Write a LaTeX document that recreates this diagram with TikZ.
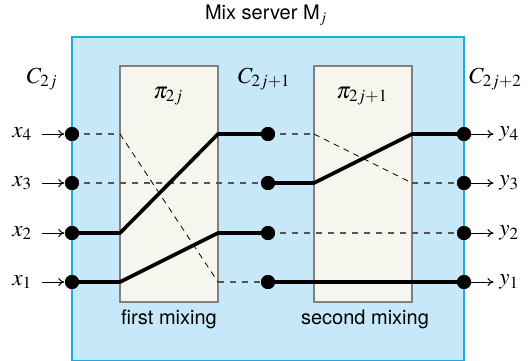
\documentclass[tikz,border=0pt]{standalone}
\usepackage{mathptmx}
\usepackage{fontspec}
\setmainfont{TeX Gyre Heros}
\usetikzlibrary{arrows.meta}
\definecolor{serverfill}{HTML}{C6E8F8}
\definecolor{serveredge}{HTML}{1AABE3}
\definecolor{mixfill}{HTML}{F7F6EE}
\definecolor{mixedge}{HTML}{808080}
\definecolor{dashgray}{HTML}{555555}
\tikzset{
  server/.style={fill=serverfill, draw=serveredge, line width=1.6pt},
  mixbox/.style={fill=mixfill, draw=mixedge, line width=1.6pt},
  dot/.style={circle, fill=black, inner sep=0pt, minimum size=14pt},
  thickline/.style={line width=3.6pt, line join=round},
  straightdash/.style={draw=dashgray, line width=1.1pt, dash pattern=on 6pt off 6pt},
  diagdash/.style={draw=black, line width=0.8pt, dash pattern=on 6pt off 5pt},
  inarrow/.style={-{To[length=6pt,width=8pt]}, line width=1pt, shorten >=0.5pt},
  lbl/.style={font=\fontsize{23}{26}\selectfont, inner sep=0pt},
  txt/.style={font=\fontsize{20}{23}\selectfont, inner sep=0pt}
}
\begin{document}
\begin{tikzpicture}[x=1pt, y=-1pt]
\useasboundingbox (0,0) rectangle (528,360);
% server box and mixing boxes
\draw[server] (72,37) rectangle (464,361);
\draw[mixbox] (120,66) rectangle (218,302);
\draw[mixbox] (314,66) rectangle (412,302);
% titles and labels
\node[txt, anchor=base] (title) at (266,19) {Mix server M$_j$};
\node[lbl] (c0) at (42,79) {$C_{2j}$};
\node[lbl] (c1) at (264,79) {$C_{2j+1}$};
\node[lbl, anchor=west] (c2) at (469,79) {$C_{2j+2}$};
\node[lbl] (p0) at (168,96) {$\pi_{2j}$};
\node[lbl] (p1) at (362,96) {$\pi_{2j+1}$};
\node[txt, anchor=base] (m1) at (169,324) {first mixing};
\node[txt, anchor=base] (m2) at (365,324) {second mixing};
% dots
\foreach \i/\y in {4/134,3/183,2/233,1/282}{
  \node[dot] (L\i) at (72,\y) {};
  \node[dot] (M\i) at (268,\y) {};
  \node[dot] (R\i) at (464,\y) {};
  \node[lbl] (x\i) at (22,\y) {$x_{\i}$};
  \node[lbl] (y\i) at (509,\y) {$y_{\i}$};
  \coordinate (ia\i) at (42,\y);
  \coordinate (oa\i) at (494,\y);
  \coordinate (aL\i) at (120,\y);
  \coordinate (aR\i) at (218,\y);
  \coordinate (bL\i) at (314,\y);
  \coordinate (bR\i) at (412,\y);
}
% first mixing
\draw[straightdash] (L4.center) -- (aL4);
\draw[diagdash] (aL4) -- (aR1);
\draw[straightdash] (aR1) -- (M1.center);
\draw[straightdash] (L3.center) -- (M3.center);
\draw[thickline] (L2.center) -- (aL2) -- (aR4) -- (M4.center);
\draw[thickline] (L1.center) -- (aL1) -- (aR2) -- (M2.center);
% second mixing
\draw[straightdash] (M4.center) -- (bL4);
\draw[diagdash] (bL4) -- (bR3);
\draw[straightdash] (bR3) -- (R3.center);
\draw[thickline] (M3.center) -- (bL3) -- (bR4) -- (R4.center);
\draw[straightdash] (M2.center) -- (R2.center);
\draw[thickline] (M1.center) -- (R1.center);
% dots on top, and the input/output arrows
\foreach \i in {1,2,3,4}{
  \fill (L\i) circle (7pt);
  \fill (M\i) circle (7pt);
  \fill (R\i) circle (7pt);
  \draw[inarrow] (ia\i) -- (L\i);
  \draw[inarrow] (R\i) -- (oa\i);
}
\end{tikzpicture}
\end{document}
